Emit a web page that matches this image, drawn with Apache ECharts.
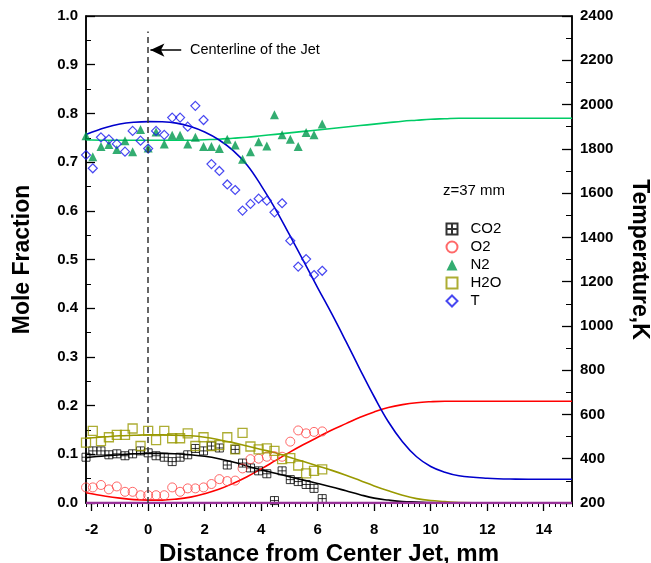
<!DOCTYPE html>
<html>
<head>
<meta charset="utf-8">
<script src="https://cdn.jsdelivr.net/npm/echarts@6/dist/echarts.min.js"></script>
<style>
  html, body { margin: 0; padding: 0; background: #fff; }
  #chart { width: 651px; height: 563px; }
</style>
</head>
<body>
<div id="chart"></div>
<script>
// Radial positions of the measurements (mm from the jet centre)
const measX = [-2.2, -1.96, -1.67, -1.39, -1.11, -0.82, -0.55, -0.27, 0, 0.28, 0.57, 0.85, 1.13, 1.40, 1.67, 1.96,
  2.24, 2.52, 2.80, 3.08, 3.34, 3.62, 3.91, 4.20, 4.47, 4.74, 5.03, 5.31, 5.59, 5.87, 6.16];

// Measured mole fractions
const co2Meas = [0.094, 0.107, 0.107, 0.099, 0.101, 0.097, 0.101, 0.107, 0.103, 0.097, 0.094, 0.085, 0.094, 0.099, 0.112, 0.107,
  0.117, 0.113, 0.078, 0.110, 0.082, 0.072, 0.066, 0.060, 0.005, 0.066, 0.048, 0.044, 0.038, 0.030, 0.009];
const o2Meas = [0.032, 0.032, 0.037, 0.028, 0.034, 0.023, 0.023, 0.016, 0.016, 0.016, 0.016, 0.032, 0.023, 0.030, 0.030, 0.032,
  0.039, 0.049, 0.045, 0.046, 0.071, 0.090, 0.091, 0.095, 0.096, 0.095, 0.126, 0.149, 0.143, 0.146, 0.147];
const n2Meas = [0.754, 0.711, 0.732, 0.736, 0.726, 0.744, 0.721, 0.767, 0.729, 0.762, 0.737, 0.755, 0.755, 0.737, 0.751, 0.732,
  0.732, 0.728, 0.747, 0.735, 0.706, 0.721, 0.742, 0.733, 0.797, 0.756, 0.747, 0.732, 0.761, 0.756, 0.778];
const h2oMeas = [0.124, 0.148, 0.127, 0.135, 0.140, 0.140, 0.153, 0.117, 0.148, 0.129, 0.148, 0.133, 0.133, 0.143, 0.117, 0.135,
  0.117, 0.119, 0.135, 0.110, 0.144, 0.116, 0.110, 0.112, 0.107, 0.090, 0.092, 0.077, 0.061, 0.066, 0.069];
// Measured temperature, K
const tMeas = [1772, 1712, 1852, 1843, 1822, 1787, 1881, 1837, 1801, 1881, 1863, 1941, 1941, 1900, 1994, 1930,
  1731, 1700, 1639, 1614, 1521, 1551, 1575, 1566, 1513, 1554, 1385, 1268, 1302, 1230, 1249];

// Computed profiles
const calcX = [-2.2, -1.5, -1, -0.5, 0, 0.5, 1, 1.5, 2, 2.5, 3, 3.5, 4, 4.5, 5, 5.5, 6, 6.5, 7, 7.5, 8, 8.5, 9, 9.5, 10, 10.5, 11, 12, 13, 14, 15];
const co2Calc = [0.093, 0.097, 0.099, 0.101, 0.102, 0.102, 0.101, 0.099, 0.096, 0.091, 0.084, 0.076, 0.068, 0.061, 0.054, 0.047,
  0.040, 0.033, 0.025, 0.017, 0.010, 0.006, 0.003, 0.002, 0.001, 0.0005, 0.0002, 0, 0, 0, 0];
const o2Calc = [0.021, 0.014, 0.010, 0.007, 0.006, 0.006, 0.008, 0.012, 0.019, 0.028, 0.040, 0.054, 0.070, 0.087, 0.104, 0.120,
  0.135, 0.150, 0.163, 0.176, 0.187, 0.196, 0.202, 0.206, 0.208, 0.209, 0.209, 0.209, 0.209, 0.209, 0.209];
const n2Calc = [0.746, 0.745, 0.745, 0.745, 0.745, 0.745, 0.745, 0.745, 0.746, 0.747, 0.749, 0.751, 0.754, 0.757, 0.760, 0.763,
  0.766, 0.769, 0.772, 0.775, 0.778, 0.781, 0.784, 0.786, 0.788, 0.789, 0.790, 0.790, 0.790, 0.790, 0.790];
const h2oCalc = [0.133, 0.136, 0.138, 0.139, 0.140, 0.140, 0.139, 0.138, 0.135, 0.130, 0.124, 0.117, 0.110, 0.103, 0.094, 0.085,
  0.076, 0.067, 0.057, 0.046, 0.035, 0.025, 0.016, 0.009, 0.005, 0.003, 0.001, 0, 0, 0, 0];
const tCalc = [1865, 1896, 1912, 1920, 1923, 1922, 1916, 1901, 1876, 1841, 1793, 1727, 1634, 1529, 1412, 1293,
  1172, 1054, 930, 803, 680, 567, 477, 409, 365, 339, 323, 312, 308, 307, 307];
// Trace species profile along the baseline
const traceX = [-2.2, 15];
const traceCalc = [0, 0];

// Axis ticks and labels
const xMajorTicks = [-2, 0, 2, 4, 6, 8, 10, 12, 14];
const legendNames = ['CO2', 'O2', 'N2', 'H2O', 'T'];

const pair = (xs, ys) => xs.map((x, i) => [x, ys[i]]);
const FONT = "'Liberation Sans', Arial, sans-serif";
const gridBox = { left: 86, top: 16, width: 486, height: 487, outerBoundsMode: 'none', containLabel: false };

function fitLine(name, xs, ys, color, yIdx) {
  return {
    name: name, type: 'line', data: pair(xs, ys), yAxisIndex: yIdx || 0,
    showSymbol: false, smooth: 0.4, silent: true, z: 2,
    lineStyle: { color: color, width: 1.6 }
  };
}
function marks(name, ys, symbol, size, style, yIdx) {
  return {
    name: name, type: 'scatter', data: pair(measX, ys), yAxisIndex: yIdx || 0,
    symbol: symbol, symbolSize: size, symbolKeepAspect: true, clip: false, z: 3,
    itemStyle: style
  };
}

const chart = echarts.init(document.getElementById('chart'), null, { renderer: 'canvas' });
chart.setOption({
  animation: false,
  backgroundColor: '#fff',
  textStyle: { fontFamily: FONT },
  grid: [
    Object.assign({ show: true, borderColor: '#000', borderWidth: 1.5, backgroundColor: 'transparent' }, gridBox),
    Object.assign({ show: false }, gridBox)
  ],
  xAxis: [{
    type: 'value', gridIndex: 0, min: -2.2, max: 15,
    name: 'Distance from Center Jet, mm', nameLocation: 'middle', nameGap: 35,
    nameTextStyle: { fontSize: 24, fontWeight: 'bold', color: '#000', fontFamily: FONT },
    axisLine: { onZero: false, lineStyle: { color: '#000', width: 1.5 } },
    axisTick: { customValues: xMajorTicks, length: 8, lineStyle: { color: '#000', width: 1.3 } },
    axisLabel: { customValues: xMajorTicks, margin: 19, fontSize: 15, fontWeight: 'bold', color: '#000', fontFamily: FONT },
    splitLine: { show: false }
  }, {
    type: 'value', gridIndex: 1, min: -2.2, max: 15, interval: 0.2, position: 'bottom',
    axisLine: { show: false, onZero: false },
    axisTick: { length: 4, lineStyle: { color: '#000', width: 1 } },
    axisLabel: { show: false }, splitLine: { show: false }
  }],
  yAxis: [{
    type: 'value', gridIndex: 0, min: 0, max: 1, interval: 0.1, position: 'left',
    name: 'Mole Fraction', nameLocation: 'middle', nameGap: 52,
    nameTextStyle: { fontSize: 23, fontWeight: 'bold', color: '#000', fontFamily: FONT },
    axisLine: { show: true, onZero: false, lineStyle: { color: '#000', width: 1.5 } },
    axisTick: { inside: true, length: 9, lineStyle: { color: '#000', width: 1.3 } },
    minorTick: { show: true, splitNumber: 2, length: 5, lineStyle: { color: '#000', width: 1 } },
    axisLabel: { formatter: v => v.toFixed(1), margin: 8, fontSize: 15, fontWeight: 'bold', color: '#000', fontFamily: FONT },
    splitLine: { show: false }
  }, {
    type: 'value', gridIndex: 0, min: 200, max: 2400, interval: 200, position: 'right',
    name: 'Temperature,K', nameLocation: 'middle', nameGap: 56, nameRotate: -90,
    nameTextStyle: { fontSize: 23, fontWeight: 'bold', color: '#000', fontFamily: FONT },
    axisLine: { show: true, onZero: false, lineStyle: { color: '#000', width: 1.5 } },
    axisTick: { inside: true, length: 10, lineStyle: { color: '#000', width: 1.3 } },
    minorTick: { show: true, splitNumber: 2, length: 6, lineStyle: { color: '#000', width: 1 } },
    axisLabel: { formatter: v => String(v), margin: 8, fontSize: 15, fontWeight: 'bold', color: '#000', fontFamily: FONT },
    splitLine: { show: false }
  }, {
    type: 'value', gridIndex: 1, min: 0, max: 1, show: false
  }],
  legend: {
    data: legendNames, orient: 'vertical', left: 439, top: 215,
    itemWidth: 11, itemHeight: 11, itemGap: 0,
    textStyle: { fontSize: 15, lineHeight: 18, height: 18, color: '#000', fontFamily: FONT, padding: [0, 0, 0, 8] }
  },
  graphic: [
    { type: 'text', left: 443, top: 183, style: { text: 'z=37 mm', font: "15px 'Liberation Sans', Arial", fill: '#000' } },
    { type: 'text', left: 190, top: 42, style: { text: 'Centerline of the Jet', font: "14.5px 'Liberation Sans', Arial", fill: '#000' } }
  ],
  series: [
    fitLine('CO2 calc', calcX, co2Calc, '#000000'),
    fitLine('O2 calc', calcX, o2Calc, '#ff0000'),
    fitLine('N2 calc', calcX, n2Calc, '#00cc66'),
    fitLine('H2O calc', calcX, h2oCalc, '#999900'),
    fitLine('T calc', calcX, tCalc, '#0000cc', 1),
    {
      name: 'trace', type: 'line', data: pair(traceX, traceCalc), showSymbol: false, silent: true, z: 4,
      lineStyle: { color: '#993399', width: 2.5 },
      markLine: {
        silent: true, symbol: ['none', 'none'], label: { show: false },
        lineStyle: { color: '#333', type: [6, 4], width: 1.5 },
        data: [[{ coord: [0, 0] }, { coord: [0, 0.968] }]]
      }
    },
    {
      name: 'arrow', type: 'line', data: [], silent: true,
      markLine: {
        silent: true, symbol: ['none', 'arrow'], symbolSize: [10, 14], label: { show: false },
        lineStyle: { color: '#000', type: 'solid', width: 1.5 },
        data: [[{ coord: [1.17, 0.930] }, { coord: [0.08, 0.930] }]]
      }
    },
    marks('CO2', co2Meas, 'path://M0,0H10V10H0Z M5,0V10 M0,5H10', 8,
      { color: 'none', borderColor: '#000', borderWidth: 1 }),
    marks('O2', o2Meas, 'circle', 9, { color: 'none', borderColor: '#ff4444', borderWidth: 1 }),
    marks('N2', n2Meas, 'triangle', 9, { color: '#00994d' }),
    marks('H2O', h2oMeas, 'rect', 9, { color: 'none', borderColor: '#999900', borderWidth: 1.3 }),
    marks('T', tMeas, 'diamond', 9, { color: 'none', borderColor: '#1a1aee', borderWidth: 1.2 }, 1)
  ]
});
</script>
</body>
</html>
